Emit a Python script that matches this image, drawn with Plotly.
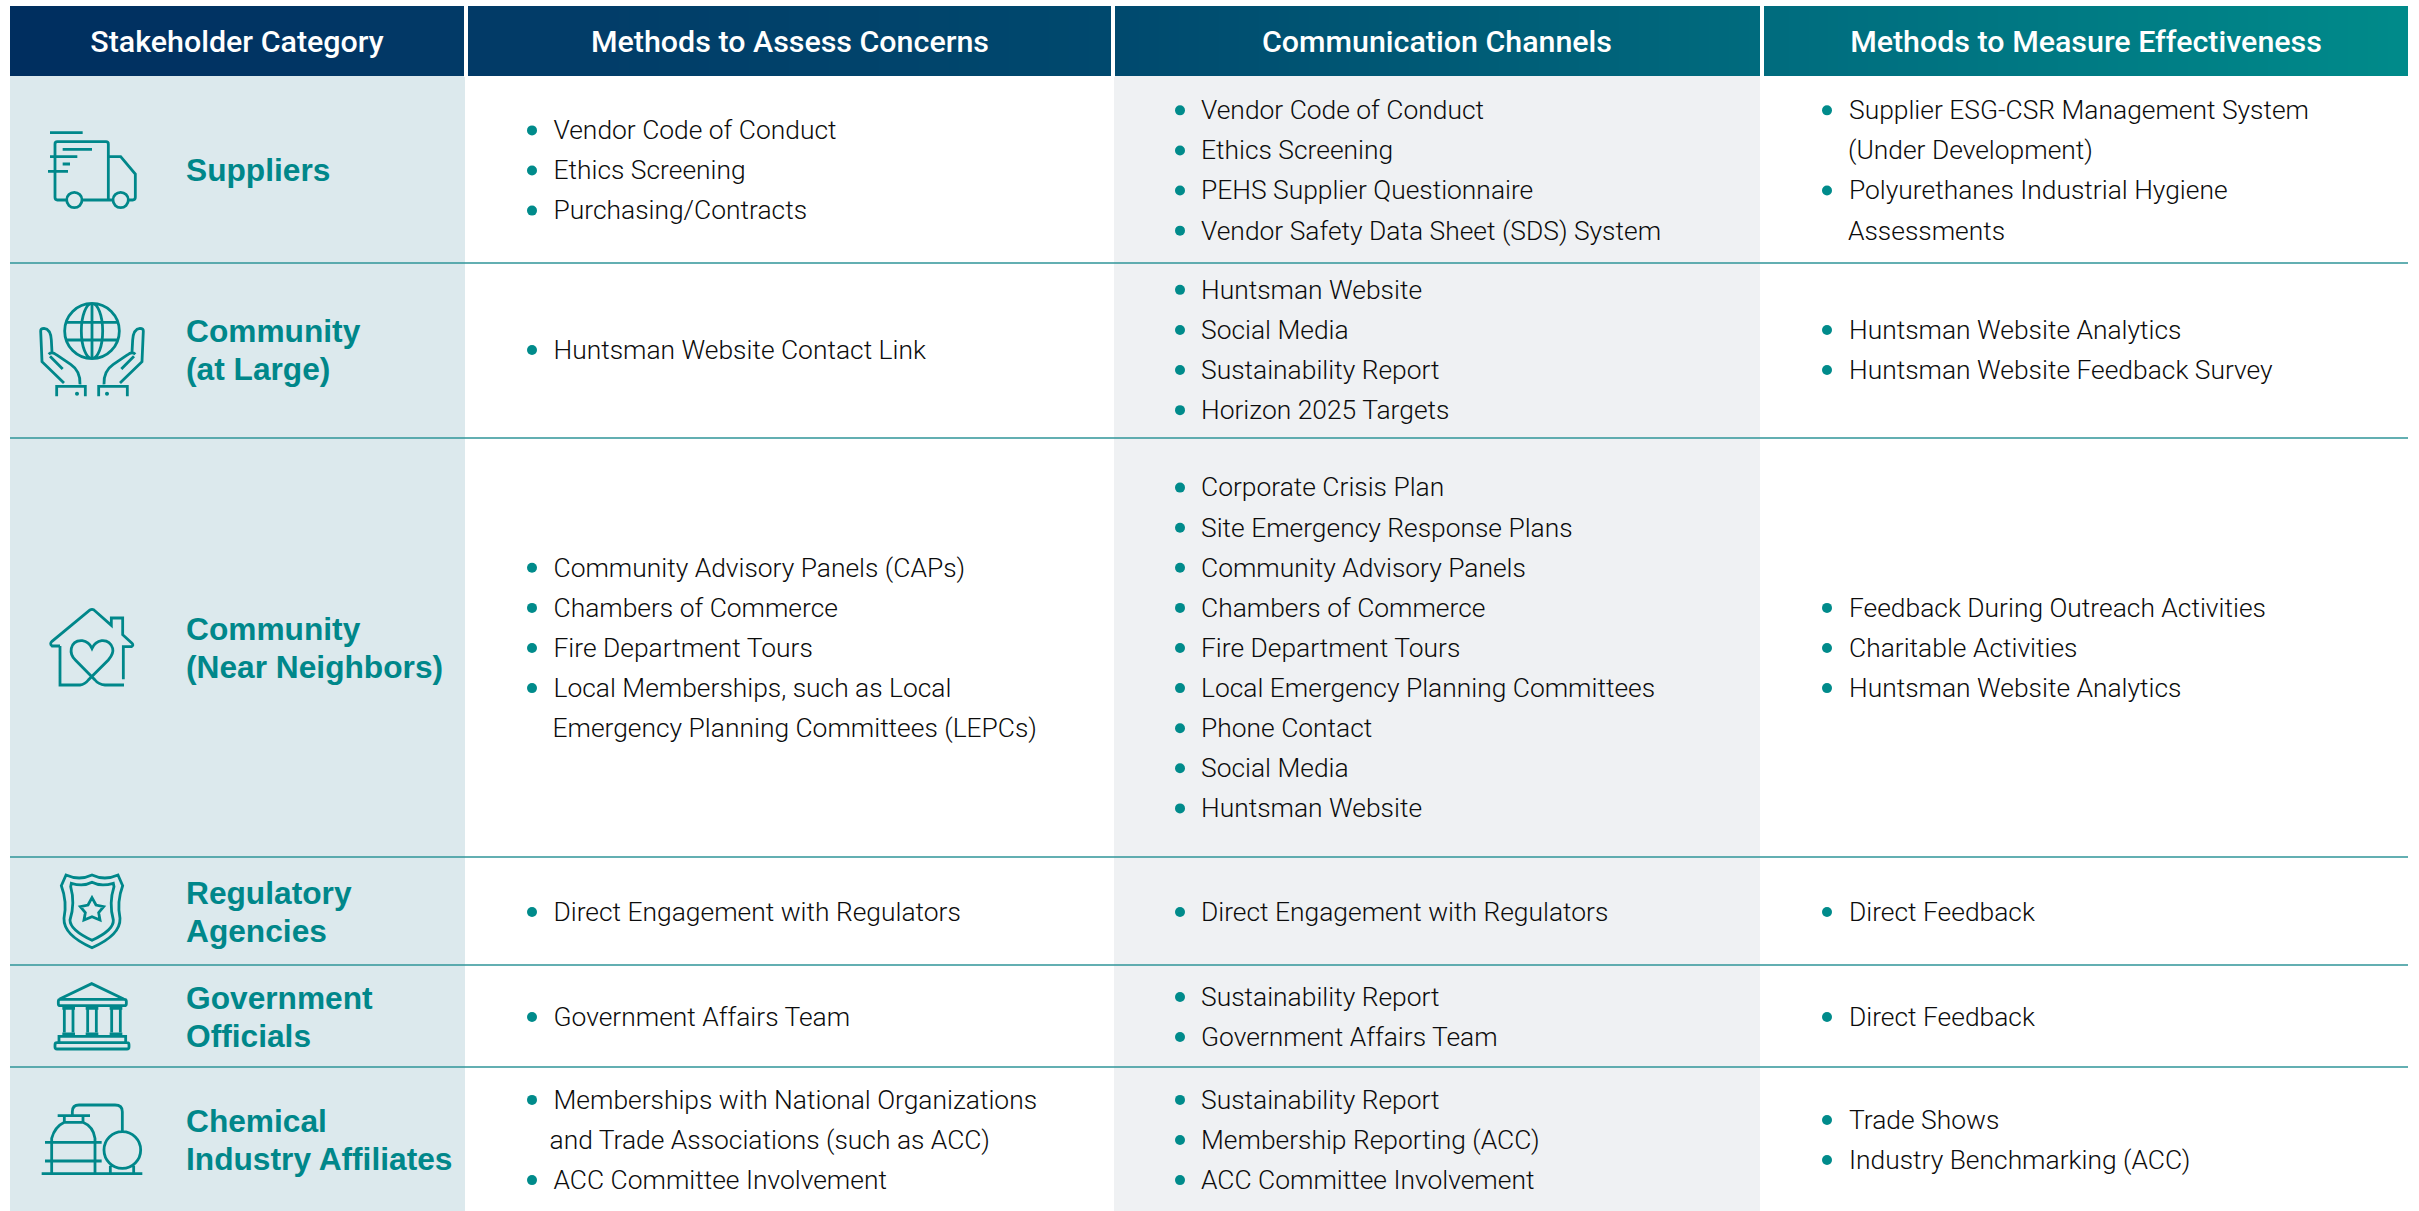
import re
import numpy as np
import plotly.graph_objects as go

W, H = 2419, 1211
TEAL = "#00878a"

# ---------- content ----------
headers = ["Stakeholder Category", "Methods to Assess Concerns",
           "Communication Channels", "Methods to Measure Effectiveness"]
header_centers = [237, 790, 1437, 2086]

category_lines = [
    ["Suppliers"],
    ["Community", "(at Large)"],
    ["Community", "(Near Neighbors)"],
    ["Regulatory", "Agencies"],
    ["Government", "Officials"],
    ["Chemical", "Industry Affiliates"],
]

# a leading ">" marks the wrapped continuation of the previous bullet
assess = [
    ["Vendor Code of Conduct", "Ethics Screening", "Purchasing/Contracts"],
    ["Huntsman Website Contact Link"],
    ["Community Advisory Panels (CAPs)", "Chambers of Commerce", "Fire Department Tours",
     "Local Memberships, such as Local", ">Emergency Planning Committees (LEPCs)"],
    ["Direct Engagement with Regulators"],
    ["Government Affairs Team"],
    ["Memberships with National Organizations", ">>and Trade Associations (such as ACC)",
     "ACC Committee Involvement"],
]
channels = [
    ["Vendor Code of Conduct", "Ethics Screening", "PEHS Supplier Questionnaire",
     "Vendor Safety Data Sheet (SDS) System"],
    ["Huntsman Website", "Social Media", "Sustainability Report", "Horizon 2025 Targets"],
    ["Corporate Crisis Plan", "Site Emergency Response Plans", "Community Advisory Panels",
     "Chambers of Commerce", "Fire Department Tours", "Local Emergency Planning Committees",
     "Phone Contact", "Social Media", "Huntsman Website"],
    ["Direct Engagement with Regulators"],
    ["Sustainability Report", "Government Affairs Team"],
    ["Sustainability Report", "Membership Reporting (ACC)", "ACC Committee Involvement"],
]
measure = [
    ["Supplier ESG-CSR Management System", ">(Under Development)",
     "Polyurethanes Industrial Hygiene", ">Assessments"],
    ["Huntsman Website Analytics", "Huntsman Website Feedback Survey"],
    ["Feedback During Outreach Activities", "Charitable Activities", "Huntsman Website Analytics"],
    ["Direct Feedback"],
    ["Direct Feedback"],
    ["Trade Shows", "Industry Benchmarking (ACC)"],
]

# ---------- layout constants ----------
row_edges = [76, 263, 438, 857, 965, 1067, 1211]
row_centers = [170.5, 350, 648, 912, 1017, 1140]
LINE = 40.1
CAT_LINE = 38.3
TEXT_DY = 2.3
columns = [(assess, 532, 553.5), (channels, 1180, 1201), (measure, 1827, 1849)]

fig = go.Figure()

# header gradient
fig.add_trace(go.Heatmap(
    x=np.linspace(10, 2408, 241), y=[6, 76],
    z=[np.linspace(0, 1, 240).tolist()],
    colorscale=[[0, "#002e5f"], [0.19, "#023a67"], [0.46, "#00496e"],
                [0.73, "#006b7e"], [1, "#008a8a"]], zmin=0, zmax=1,
    showscale=False, hoverinfo="skip"))

# header text
fig.add_trace(go.Scatter(
    x=header_centers, y=[44] * 4, text=headers, mode="text", textposition="middle center",
    textfont=dict(family="Roboto", size=30.4, color="white", weight=500),
    hoverinfo="skip", cliponaxis=False))

# category labels
cx, cy, ct = [], [], []
for lines, c in zip(category_lines, row_centers):
    for i, t in enumerate(lines):
        cx.append(186)
        cy.append(c + 3 + (i - (len(lines) - 1) / 2) * CAT_LINE)
        ct.append(t)
fig.add_trace(go.Scatter(
    x=cx, y=cy, text=ct, mode="text", textposition="middle right",
    textfont=dict(family="Liberation Sans", size=31.7, color=TEAL, weight="bold"),
    hoverinfo="skip", cliponaxis=False))

# bullets and body text
for rows, bx, tx in columns:
    xs, ys, ts, mx, my = [], [], [], [], []
    for lines, c in zip(rows, row_centers):
        for i, t in enumerate(lines):
            y = c + (i - (len(lines) - 1) / 2) * LINE
            depth = len(t) - len(t.lstrip(">"))
            xs.append(tx - (1 if depth == 1 else 4 if depth == 2 else 0))
            ys.append(y + TEXT_DY)
            ts.append(t.lstrip(">"))
            if depth == 0:
                mx.append(bx)
                my.append(y)
    fig.add_trace(go.Scatter(
        x=mx, y=my, mode="markers", marker=dict(size=10, color="#008b8b"),
        hoverinfo="skip"))
    fig.add_trace(go.Scatter(
        x=xs, y=ys, text=ts, mode="text", textposition="middle right",
        textfont=dict(family="Roboto", size=26.4, color="#0c0c0c", weight=300),
        hoverinfo="skip", cliponaxis=False))

# ---------- background cells and rules ----------
shapes = []
BG1, BG3 = "#dce9ed", "#eff1f3"
shapes.append(dict(type="rect", xref="x", yref="y", x0=10, x1=465, y0=76, y1=H, layer="below",
                   fillcolor=BG1, line_width=0))
shapes.append(dict(type="rect", xref="x", yref="y", x0=1114, x1=1760, y0=76, y1=H, layer="below",
                   fillcolor=BG3, line_width=0))
for y in row_edges[1:-1]:
    shapes.append(dict(type="line", xref="x", yref="y", x0=10, x1=2408, y0=y, y1=y,
                       layer="below", line=dict(color="#2f9498", width=1.6)))
for a, b in [(464, 468), (1111, 1115), (1760, 1764)]:
    shapes.append(dict(type="rect", xref="x", yref="y", x0=a, x1=b, y0=0, y1=77, layer="above",
                       fillcolor="white", line_width=0))


# ---------- icons: outlines traced in zoomed-crop units (1/3 px) ----------
def ell(cx, cy, rx, ry=None):
    ry = rx if ry is None else ry
    k = 0.5523
    return (f"M{cx-rx} {cy} C{cx-rx} {cy-k*ry} {cx-k*rx} {cy-ry} {cx} {cy-ry} "
            f"C{cx+k*rx} {cy-ry} {cx+rx} {cy-k*ry} {cx+rx} {cy} "
            f"C{cx+rx} {cy+k*ry} {cx+k*rx} {cy+ry} {cx} {cy+ry} "
            f"C{cx-k*rx} {cy+ry} {cx-rx} {cy+k*ry} {cx-rx} {cy} Z")


def rrect(x0, y0, x1, y1, r=6):
    return (f"M{x0+r} {y0} L{x1-r} {y0} Q{x1} {y0} {x1} {y0+r} L{x1} {y1-r} Q{x1} {y1} {x1-r} {y1} "
            f"L{x0+r} {y1} Q{x0} {y1} {x0} {y1-r} L{x0} {y0+r} Q{x0} {y0} {x0+r} {y0} Z")


def place(path, ox, oy, mirror=None):
    tok = re.findall(r"[MLCQZ]|-?\d+\.?\d*", path)
    out, is_x = [], True
    for t in tok:
        if t.isalpha():
            out.append(t)
            is_x = True
        else:
            v = float(t)
            if is_x:
                if mirror is not None:
                    v = mirror - v
                out.append(f"{ox + v / 3:.2f}")
            else:
                out.append(f"{oy + v / 3:.2f}")
            is_x = not is_x
    return " ".join(out)


truck = ("M60 38 L158 38 M108 240 L82 240 Q75 240 75 232 L75 72 Q75 65 82 65 L228 65 Q235 65 235 72 L235 240 "
         "M158 240 L248 240 M98 88 L186 88 M60 110 L142 110 M98 132 L120 132 M54 154 L114 154 "
         "M235 110 L272 110 L316 162 L316 232 Q316 240 308 240 L296 240 ")
globe = (ell(186, 108, 82, 83) + " " + ell(186, 108, 32, 83) +
         " M186 25 L186 191 M108 82 L264 82 M108 135 L264 135")
hand = ("M102 264 L36 200 L32 108 Q32 100 42 100 Q62 102 64 135 L66 172 "
        "M56 178 Q66 168 80 180 L122 208 Q152 228 150 268 M60 184 L98 222 M80 304 L80 274 L166 274 L166 304")
house = ("M60 138 L36 138 Q28 132 36 124 L150 30 Q156 26 162 30 L214 76 L214 54 L248 54 L248 104 L276 130 "
         "Q282 136 274 140 L250 140 L250 238 M60 138 L60 255 L120 255 Q135 253 145 240 L205 180 "
         "Q222 160 218 145 Q210 120 185 122 Q165 125 156 145 Q147 125 127 122 Q100 120 94 145 Q90 165 106 180 "
         "L165 240 Q175 253 195 255 L252 255")
badge = ("M48 30 Q88 48 126 30 Q164 48 204 30 L218 62 Q200 110 210 160 Q212 210 126 248 Q40 210 42 160 "
         "Q52 110 34 62 Z M64 55 Q100 66 126 52 Q152 66 190 55 L192 65 Q176 115 190 165 Q192 195 126 226 "
         "Q60 195 60 165 Q76 115 62 65 Z M126 98 L138 120 L161 125 L146 143 L150 165 L126 155 L102 165 "
         "L106 143 L91 125 L114 120 Z")
bank = ("M44 72 L140 26 L236 72 " + rrect(40, 73, 244, 92) +
        " M52 100 L90 100 M122 100 L160 100 M194 100 L232 100"
        " M58 104 L58 172 M84 104 L84 172 M128 104 L128 172 M154 104 L154 172 M200 104 L200 172 M226 104 L226 172"
        " M52 177 L90 177 M122 177 L160 177 M194 177 L232 177"
        " M42 200 L42 184 L242 184 L242 200 " + rrect(30, 203, 252, 222))
tank = ("M20 236 L322 236 M50 236 L50 130 Q60 95 88 82 L144 82 Q175 95 180 130 L180 236 "
        "M88 82 L88 62 M144 82 L144 62 M68 62 L165 62 M30 142 L200 142 M30 198 L200 198 "
        "M112 62 L112 50 Q112 30 132 30 L240 30 Q262 30 262 50 L262 110 "
        + ell(262, 165, 55) + " M226 212 L226 236 M296 212 L296 236")

icons = [
    (truck + ell(133, 240, 23) + " " + ell(272, 240, 23), 30, 120, None),
    (globe, 30, 295, None),
    (hand, 30, 295, None),
    (hand, 30, 295, 372),
    (house, 40, 600, None),
    (badge, 50, 865, None),
    (bank, 45, 975, None),
    (tank, 35, 1095, None),
]
for p, ox, oy, m in icons:
    shapes.append(dict(type="path", xref="x", yref="y", path=place(p, ox, oy, m), layer="above",
                       line=dict(color=TEAL, width=2.8), fillcolor="rgba(0,0,0,0)"))
for cxd in (141, 231):
    shapes.append(dict(type="path", xref="x", yref="y", layer="above", fillcolor=TEAL,
                       path=place(ell(cxd, 296, 6), 30, 295), line_width=0))

fig.update_layout(
    width=W, height=H, margin=dict(l=0, r=0, t=0, b=0), autosize=False,
    paper_bgcolor="white", plot_bgcolor="white", showlegend=False,
    xaxis=dict(range=[0, W], visible=False, fixedrange=True),
    yaxis=dict(range=[H, 0], visible=False, fixedrange=True),
    shapes=shapes,
)
fig.write_html("out.html", config=dict(displayModeBar=False),
               post_script="document.body.style.margin='0';document.body.style.overflow='hidden';")
